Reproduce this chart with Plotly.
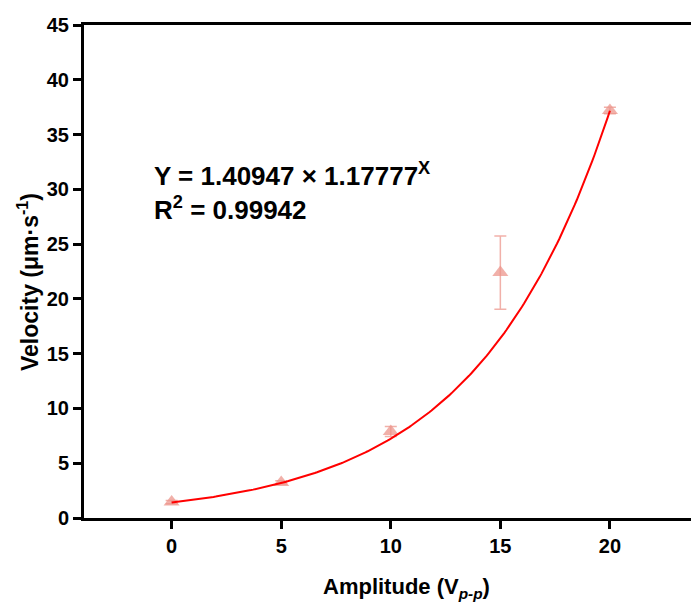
import numpy as np
import plotly.graph_objects as go

amplitude = [0, 5, 10, 15, 20]
velocity = [1.45, 3.25, 7.9, 22.4, 37.2]
velocity_err = [0.15, 0.15, 0.45, 3.35, 0.3]

fit_a = 1.40947
fit_b = 1.17777
fit_r2 = 0.99942

x_ticks = [0, 5, 10, 15, 20]
y_ticks = [0, 5, 10, 15, 20, 25, 30, 35, 40, 45]

x_title = "Amplitude (V<sub><i>p-p</i></sub>)"
y_title = "Velocity (μm·s<sup>-1</sup>)"

fit_x = np.linspace(0, 20, 200)
fit_y = fit_a * fit_b ** fit_x

FONT = "Liberation Sans, Arial, sans-serif"
marker_col = "rgba(236,150,140,0.75)"

fig = go.Figure()
fig.add_trace(go.Scatter(
    x=amplitude, y=velocity, mode="markers",
    marker=dict(symbol="triangle-up", size=14, color=marker_col, line=dict(width=0)),
    error_y=dict(type="data", array=velocity_err, visible=True, color=marker_col,
                 thickness=1.5, width=6),
    showlegend=False,
))
fig.add_trace(go.Scatter(
    x=fit_x, y=fit_y, mode="lines",
    line=dict(color="#FF0000", width=2),
    showlegend=False,
))

fig.add_annotation(
    xref="x", yref="y", x=-0.9, y=29.8, xanchor="left", yanchor="middle",
    text=f"Y = {fit_a:.5f} × {fit_b:.5f}<sup>X</sup><br>R<sup>2</sup> = {fit_r2:.5f}",
    showarrow=False, align="left",
    font=dict(family=FONT, size=26, color="black", weight="bold"),
)
# axis titles
fig.add_annotation(
    xref="paper", yref="paper", x=(406 - 84) / 607, y=-(588 - 518) / 493,
    xanchor="center", yanchor="middle", text=x_title, showarrow=False,
    font=dict(family=FONT, size=22, color="black", weight="bold"),
)
fig.add_annotation(
    xref="paper", yref="paper", x=-(84 - 28) / 607, y=(518 - 282) / 493,
    xanchor="center", yanchor="middle", text=y_title, showarrow=False, textangle=-90,
    font=dict(family=FONT, size=23, color="black", weight="bold"),
)

fig.update_layout(
    width=691, height=610,
    margin=dict(l=84, r=0, t=25, b=92),
    paper_bgcolor="white", plot_bgcolor="white",
    font=dict(family=FONT, color="black"),
    xaxis=dict(
        range=[-4, 23.7], tickvals=x_ticks, ticktext=[str(v) for v in x_ticks],
        showgrid=False, zeroline=False,
        showline=True, linecolor="black", linewidth=3, mirror=True,
        ticks="outside", ticklen=8, tickwidth=3, tickcolor="black",
        tickfont=dict(family=FONT, size=20, color="black", weight="bold"),
    ),
    yaxis=dict(
        range=[0, 45], tickvals=y_ticks, ticktext=[str(v) for v in y_ticks],
        showgrid=False, zeroline=False,
        showline=True, linecolor="black", linewidth=3, mirror=False,
        ticks="outside", ticklen=8, tickwidth=3, tickcolor="black",
        tickfont=dict(family=FONT, size=20, color="black", weight="bold"),
    ),
)

fig.write_html(
    "out.html",
    config={"displayModeBar": False},
    post_script="document.body.style.margin='0px';document.body.style.overflow='hidden';",
)
